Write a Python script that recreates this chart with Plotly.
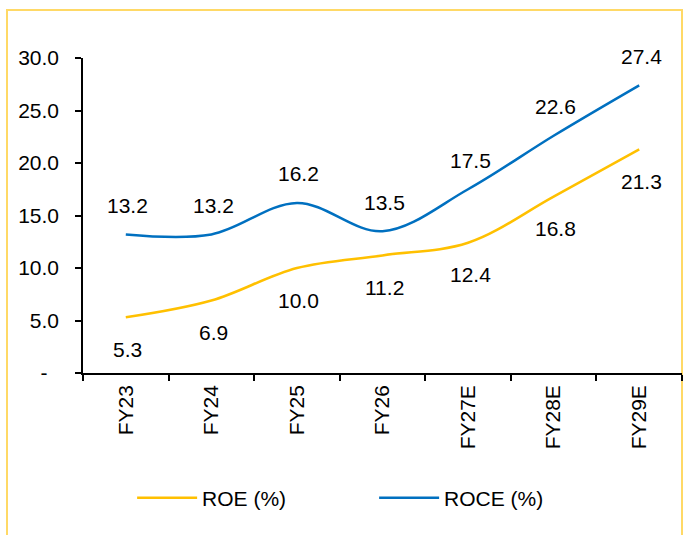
import plotly.graph_objects as go

categories = ["FY23", "FY24", "FY25", "FY26", "FY27E", "FY28E", "FY29E"]
roe = [5.3, 6.9, 10.0, 11.2, 12.4, 16.8, 21.3]
roce = [13.2, 13.2, 16.2, 13.5, 17.5, 22.6, 27.4]
ytick_vals = [0, 5, 10, 15, 20, 25, 30]
ytick_text = ["-\u00a0\u00a0", "5.0", "10.0", "15.0", "20.0", "25.0", "30.0"]

FONT = "Arial, Liberation Sans, sans-serif"
FS = 21
ROE_COLOR = "#FFC000"
ROCE_COLOR = "#0070C0"

fig = go.Figure()
fig.add_trace(go.Scatter(x=categories, y=roe, name="ROE (%)", mode="lines",
                         line=dict(color=ROE_COLOR, width=2.5, shape="spline", smoothing=1.0),
                         hoverinfo="skip"))
fig.add_trace(go.Scatter(x=categories, y=roce, name="ROCE (%)", mode="lines",
                         line=dict(color=ROCE_COLOR, width=2.5, shape="spline", smoothing=1.0),
                         hoverinfo="skip"))

annotations = []
for c, v in zip(categories, roe):
    annotations.append(dict(x=c, y=v, text=f"{v:.1f}", showarrow=False, yshift=-32, xshift=2,
                            font=dict(family=FONT, size=FS, color="#000000")))
for c, v in zip(categories, roce):
    annotations.append(dict(x=c, y=v, text=f"{v:.1f}", showarrow=False, yshift=29, xshift=2,
                            font=dict(family=FONT, size=FS, color="#000000")))

fig.update_layout(
    width=691, height=535,
    margin=dict(l=83, r=9, t=58, b=162),
    paper_bgcolor="white", plot_bgcolor="white",
    font=dict(family=FONT, size=FS, color="#000000"),
    annotations=annotations,
    showlegend=True,
    legend=dict(orientation="h", x=0.082, xanchor="left", y=-0.397, yanchor="middle",
                font=dict(family=FONT, size=FS, color="#000000"),
                itemwidth=60, entrywidth=167, entrywidthmode="pixels",
                bgcolor="rgba(0,0,0,0)"),
    xaxis=dict(type="category", range=[-0.5, 6.5], autorange=False,
               showline=True, linecolor="#000000", linewidth=1.5,
               ticks="outside", tickson="boundaries", ticklen=6, tickcolor="#000000",
               tickwidth=1.5, tickangle=-90, showgrid=False, zeroline=False,
               ticklabelstandoff=2, fixedrange=True),
    yaxis=dict(range=[0, 30], autorange=False, tickvals=ytick_vals, ticktext=ytick_text,
               showline=True, linecolor="#000000", linewidth=1.5,
               ticks="outside", ticklen=6, tickcolor="#000000", tickwidth=1.5,
               showgrid=False, zeroline=False, ticklabelstandoff=12, fixedrange=True),
    shapes=[dict(type="rect", xref="paper", yref="paper",
                 x0=(7 - 83) / 599, x1=1.0, y0=-0.56, y1=(373 - 10) / 315,
                 line=dict(color="#FFD966", width=2), fillcolor="rgba(0,0,0,0)",
                 layer="below")],
)

fig.write_html("out.html", config={"displayModeBar": False},
               post_script="document.body.style.margin='0';")
